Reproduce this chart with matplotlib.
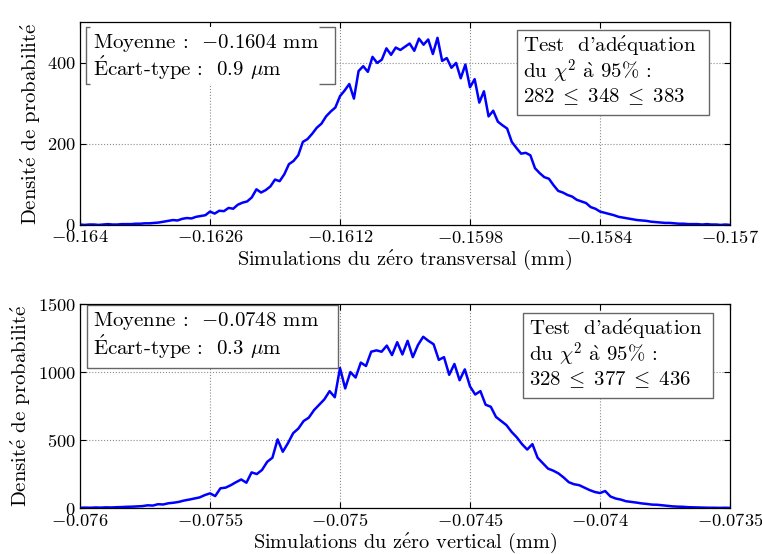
#!/usr/bin/env python3
"""
Histogrammes des simulations Monte-Carlo du zero transversal et du zero vertical.
"""
import matplotlib
matplotlib.use('Agg')
import matplotlib.pyplot as plt
from matplotlib.patches import Rectangle
from matplotlib.ticker import FixedLocator, FuncFormatter
import numpy as np

# zero transversal : bins de 0.00005 mm entre -0.164 et -0.157
trans_start = -0.164
trans_step = 0.00005
trans_density = [
    1, 0, 1, 1, 0, 1, 2, 1, 1, 2,
    2, 2, 3, 3, 4, 4, 5, 6, 8, 10,
    12, 11, 15, 17, 16, 20, 22, 24, 33, 28,
    35, 34, 42, 40, 50, 55, 58, 68, 88, 80,
    86, 95, 112, 108, 125, 150, 158, 172, 205, 212,
    225, 240, 250, 268, 280, 290, 318, 332, 348, 312,
    380, 392, 378, 415, 400, 408, 436, 420, 438, 432,
    440, 448, 430, 460, 445, 458, 422, 462, 405, 412,
    388, 400, 362, 396, 340, 360, 302, 330, 268, 282,
    255, 246, 238, 205, 190, 176, 178, 172, 140, 128,
    118, 114, 98, 84, 80, 74, 70, 62, 58, 54,
    44, 40, 33, 30, 27, 24, 20, 18, 16, 14,
    12, 11, 10, 8, 7, 6, 5, 5, 4, 3,
    3, 2, 2, 2, 1, 2, 1, 1, 0, 1, 0,
]

# zero vertical : bins de 0.00002 mm entre -0.076 et -0.0735
vert_start = -0.076
vert_step = 0.00002
vert_density = [
    2, 3, 2, 4, 3, 5, 4, 6, 7, 9,
    10, 12, 14, 20, 18, 28, 26, 35, 39, 45,
    55, 62, 70, 78, 95, 108, 88, 145, 150, 168,
    190, 210, 186, 262, 250, 280, 340, 370, 505, 414,
    478, 551, 585, 640, 665, 720, 760, 800, 860, 815,
    1030, 880, 1000, 960, 1070, 1045, 1150, 1160, 1150, 1195,
    1125, 1220, 1130, 1230, 1110, 1200, 1260, 1230, 1205, 1090,
    1110, 980, 1060, 940, 1020, 895, 835, 860, 760, 745,
    670, 640, 610, 560, 520, 470, 430, 470, 370, 330,
    290, 275, 255, 225, 190, 175, 168, 150, 132, 118,
    110, 125, 85, 70, 62, 50, 45, 40, 34, 30,
    25, 24, 20, 16, 12, 10, 9, 6, 5, 4,
    3, 2, 2, 1, 2, 1,
]

trans_xticks = [-0.164, -0.1626, -0.1612, -0.1598, -0.1584, -0.157]
trans_yticks = [0, 200, 400]
vert_xticks = [-0.076, -0.0755, -0.075, -0.0745, -0.074, -0.0735]
vert_yticks = [0, 500, 1000, 1500]

# accents rendus en mathtext (cmr10 n'a pas ces glyphes)
e_ac = r'$\mathrm{\acute{e}}$'
E_ac = r'$\mathrm{\acute{E}}$'
a_gr = r'$\mathrm{\grave{a}}$'

ylab = 'Densit' + e_ac + ' de probabilit' + e_ac
trans_xlab = 'Simulations du z' + e_ac + 'ro transversal (mm)'
vert_xlab = 'Simulations du z' + e_ac + 'ro vertical (mm)'
trans_stats = 'Moyenne :  $-0.1604$ mm\n' + E_ac + 'cart-type :  0.9 $\\mu$m'
vert_stats = 'Moyenne :  $-0.0748$ mm\n' + E_ac + 'cart-type :  0.3 $\\mu$m'
trans_test = "Test  d'ad" + e_ac + 'quation\ndu $\\chi^2$ ' + a_gr + ' 95% :\n$282\\;\\leq\\;348\\;\\leq\\;383$'
vert_test = "Test  d'ad" + e_ac + 'quation\ndu $\\chi^2$ ' + a_gr + ' 95% :\n$328\\;\\leq\\;377\\;\\leq\\;436$'

plt.rcParams['font.family'] = ['cmr10', 'DejaVu Serif']
plt.rcParams['mathtext.fontset'] = 'cm'
plt.rcParams['axes.unicode_minus'] = False
plt.rcParams['font.size'] = 15

BOX_EDGE = '0.4'


def fmt_tick(v, pos):
    s = ('%.4f' % v).rstrip('0').rstrip('.')
    return '$' + s + '$'


def draw_box(ax, x0, y0, x1, y1):
    ax.add_patch(Rectangle((x0, y0), x1 - x0, y1 - y0, transform=ax.transAxes,
                           facecolor='white', edgecolor=BOX_EDGE, lw=1.0, zorder=4))


def draw_bracket_box(ax, x0, y0, x1, y1, stub_l, stub_r):
    # boite "[ ... ]" telle que rendue par matlab
    ax.add_patch(Rectangle((x0, y0), x1 - x0, y1 - y0, transform=ax.transAxes,
                           facecolor='white', edgecolor='none', zorder=4))
    kw = dict(transform=ax.transAxes, color=BOX_EDGE, lw=1.0, zorder=4.5,
              solid_capstyle='butt')
    ax.plot([x0 + stub_l, x0, x0, x0 + stub_l], [y1, y1, y0, y0], **kw)
    ax.plot([x1 - stub_r, x1, x1, x1 - stub_r], [y1, y1, y0, y0], **kw)


def draw_panel(ax, start, step, dens, xticks, yticks, ylim, xlabel):
    x = start + step * np.arange(len(dens))
    ax.plot(x, dens, color='#0000ff', lw=1.8, zorder=3)
    ax.set_xlim(xticks[0], xticks[-1])
    ax.set_ylim(0, ylim)
    ax.xaxis.set_major_locator(FixedLocator(xticks))
    ax.yaxis.set_major_locator(FixedLocator(yticks))
    ax.xaxis.set_major_formatter(FuncFormatter(fmt_tick))
    ax.yaxis.set_major_formatter(FuncFormatter(lambda v, p: '$%d$' % v))
    ax.tick_params(labelsize=13.3)
    ax.grid(True, linestyle=':', color='0.55', lw=0.8)
    ax.tick_params(direction='in', top=True, right=True, length=4, pad=3)
    for sp in ax.spines.values():
        sp.set_linewidth(0.9)
        sp.set_zorder(5)
    ax.set_xlabel(xlabel, labelpad=1, fontsize=14.6)
    ax.set_ylabel(ylab, labelpad=3)


def put_text(ax, xy, s):
    ax.text(xy[0], xy[1], s, transform=ax.transAxes, ha='left', va='top',
            linespacing=1.0, zorder=6)


fig = plt.figure(figsize=(7.62, 5.54), dpi=100)
ax1 = fig.add_axes([0.105, 0.594, 0.853, 0.3655])
ax2 = fig.add_axes([0.105, 0.083, 0.853, 0.368])

draw_panel(ax1, trans_start, trans_step, trans_density, trans_xticks, trans_yticks, 500, trans_xlab)
draw_bracket_box(ax1, 0.009, 0.696, 0.392, 0.978, 0.006, 0.025)
draw_box(ax1, 0.672, 0.543, 0.968, 0.963)
put_text(ax1, (0.02, 0.955), trans_stats)
put_text(ax1, (0.682, 0.94), trans_test)

draw_panel(ax2, vert_start, vert_step, vert_density, vert_xticks, vert_yticks, 1500, vert_xlab)
draw_box(ax2, 0.011, 0.686, 0.397, 0.995)
draw_box(ax2, 0.682, 0.539, 0.974, 0.956)
put_text(ax2, (0.02, 0.97), vert_stats)
put_text(ax2, (0.691, 0.935), vert_test)

fig.savefig('out.png', dpi=100)
